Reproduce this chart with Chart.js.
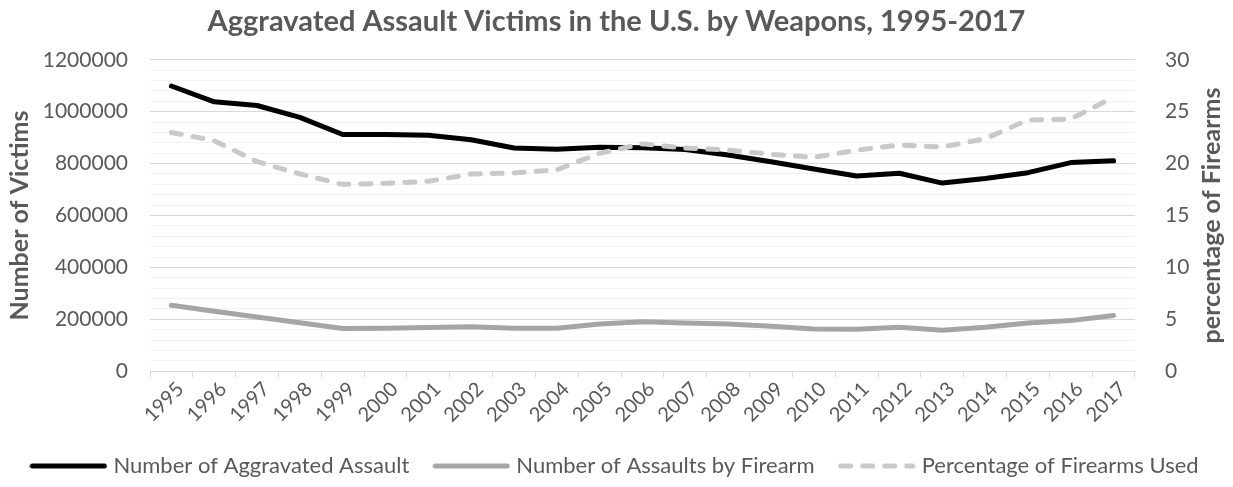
<!DOCTYPE html>
<html>
<head>
<meta charset="utf-8">
<script src="https://cdn.jsdelivr.net/npm/chart.js@4.4.1/dist/chart.umd.min.js"></script>
<style>
  html, body { margin: 0; padding: 0; background: #fff; }
  #boite { width: 1233px; height: 487px; }
</style>
</head>
<body>
<div id="boite"><canvas id="graphique"></canvas></div>
<script>
// years on the x axis
const annees = ['1995','1996','1997','1998','1999','2000','2001','2002','2003','2004','2005',
  '2006','2007','2008','2009','2010','2011','2012','2013','2014','2015','2016','2017'];

// total aggravated assault victims
const agressions = [1099000, 1038000, 1024000, 978000, 912000, 912000, 909000, 892000, 860000, 855000, 863000,
  861000, 854000, 833000, 807000, 779000, 752000, 763000, 725000, 743000, 765000, 804000, 811000];

// victims of assaults with a firearm
const parArme = [254000, 231000, 209000, 187000, 165000, 166000, 168000, 171000, 166000, 166000, 182000,
  191000, 186000, 182000, 173000, 163000, 162000, 169000, 158000, 169000, 186000, 195000, 215000];

// share of firearms (right axis, %)
const pourcentage = [23.0, 22.2, 20.2, 19.0, 18.0, 18.1, 18.3, 19.0, 19.1, 19.4, 21.0,
  21.9, 21.5, 21.3, 20.9, 20.6, 21.3, 21.8, 21.6, 22.4, 24.2, 24.3, 26.4];

const gris = '#595959';
const police = 'Lato, "Noto Sans", sans-serif';

// small line sample used as the legend symbol (the legend ignores borderDash)
function echantillon(couleur, tirets) {
  const c = document.createElement('canvas');
  c.width = 78;
  c.height = 8;
  const g = c.getContext('2d');
  g.strokeStyle = couleur;
  g.lineWidth = 5;
  g.lineCap = 'round';
  g.setLineDash(tirets);
  g.beginPath();
  g.moveTo(3, 4);
  g.lineTo(75, 4);
  g.stroke();
  return c;
}

// both axis titles, reading bottom to top
const titresAxes = {
  id: 'titresAxes',
  afterDraw(chart) {
    const ctx = chart.ctx;
    const zone = chart.chartArea;
    const milieu = (zone.top + zone.bottom) / 2;
    ctx.save();
    ctx.font = 'bold 25px ' + police;
    ctx.fillStyle = gris;
    ctx.textAlign = 'center';
    ctx.textBaseline = 'middle';
    [[20, 'Number of Victims'], [chart.width - 21, 'percentage of Firearms']].forEach(([x, texte]) => {
      ctx.save();
      ctx.translate(x, milieu);
      ctx.rotate(-Math.PI / 2);
      ctx.fillText(texte, 0, 0);
      ctx.restore();
    });
    ctx.restore();
  }
};

new Chart(document.getElementById('graphique'), {
  type: 'line',
  data: {
    labels: annees,
    datasets: [{
      label: 'Number of Aggravated Assault',
      data: agressions,
      borderColor: '#000000',
      backgroundColor: '#000000',
      borderWidth: 5,
      borderCapStyle: 'round',
      borderJoinStyle: 'round',
      pointRadius: 0,
      pointStyle: echantillon('#000000', []),
      yAxisID: 'y',
      order: 3
    }, {
      label: 'Number of Assaults by Firearm',
      data: parArme,
      borderColor: '#a5a5a5',
      backgroundColor: '#a5a5a5',
      borderWidth: 5,
      borderCapStyle: 'round',
      borderJoinStyle: 'round',
      pointRadius: 0,
      pointStyle: echantillon('#a5a5a5', []),
      yAxisID: 'y',
      order: 2
    }, {
      label: 'Percentage of Firearms Used',
      data: pourcentage,
      borderColor: '#c9c9c9',
      backgroundColor: '#c9c9c9',
      borderWidth: 5,
      borderDash: [10, 12],
      borderCapStyle: 'round',
      borderJoinStyle: 'round',
      pointRadius: 0,
      pointStyle: echantillon('#c9c9c9', [10, 12]),
      yAxisID: 'y1',
      order: 1
    }]
  },
  options: {
    responsive: true,
    maintainAspectRatio: false,
    animation: false,
    layout: { padding: { left: 0, right: 0, top: 4, bottom: 0 } },
    plugins: {
      title: {
        display: true,
        text: 'Aggravated Assault Victims in the U.S. by Weapons, 1995-2017',
        color: gris,
        font: { family: police, size: 29, weight: 'bold' },
        padding: { top: 0, bottom: 21 }
      },
      legend: {
        position: 'bottom',
        labels: {
          color: gris,
          font: { family: police, size: 22 },
          usePointStyle: true,
          pointStyleWidth: 68,
          padding: 28,
          sort: (a, b) => a.datasetIndex - b.datasetIndex
        }
      },
      tooltip: { enabled: false }
    },
    scales: {
      x: {
        offset: true,
        grid: {
          display: true,
          offset: true,
          drawOnChartArea: false,
          drawTicks: true,
          tickLength: 6,
          color: '#d9d9d9'
        },
        border: { color: '#d9d9d9', width: 1 },
        ticks: {
          color: gris,
          font: { family: police, size: 20 },
          maxRotation: 45,
          minRotation: 45,
          autoSkip: false,
          labelOffset: 9,
          padding: 0
        }
      },
      y: {
        position: 'left',
        min: 0,
        max: 1200000,
        border: { display: false },
        grid: {
          drawTicks: false,
          color: (c) => c.tick.value % 200000 === 0 ? '#d9d9d9' : '#f2f2f2'
        },
        ticks: {
          stepSize: 40000,
          autoSkip: false,
          color: gris,
          font: { family: police, size: 21 },
          padding: 22,
          callback: (v) => v % 200000 === 0 ? v : ''
        },
        // room for the rotated title on the left
        afterFit: (echelle) => { echelle.width = 150; }
      },
      y1: {
        position: 'right',
        min: 0,
        max: 30,
        border: { display: false },
        grid: { display: false },
        ticks: {
          stepSize: 1,
          autoSkip: false,
          color: gris,
          font: { family: police, size: 21 },
          padding: 22,
          callback: (v) => v % 5 === 0 ? v : ''
        },
        afterFit: (echelle) => { echelle.width = 98; }
      }
    }
  },
  plugins: [titresAxes]
});
</script>
</body>
</html>
